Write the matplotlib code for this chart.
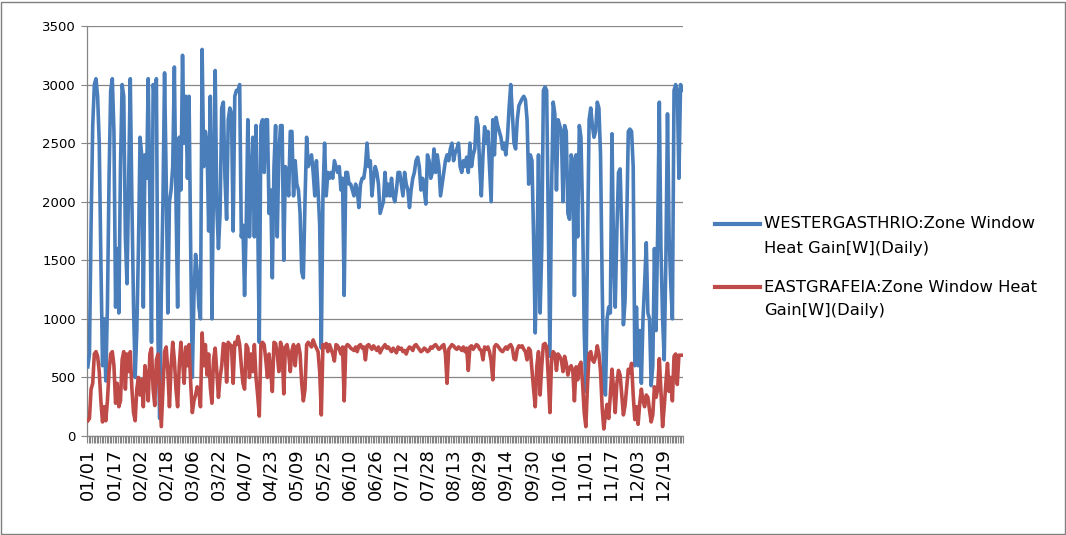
import matplotlib
matplotlib.use("Agg")
import matplotlib.pyplot as plt
from matplotlib.lines import Line2D
from matplotlib.patches import Rectangle
import numpy as np

# ---------------- data ----------------
days = list(range(365))  # 01/01 .. 12/31 (daily categories)

tick_days = [0, 16, 32, 48, 64, 80, 96, 112, 128, 144, 160, 176, 192, 208, 224,
             240, 256, 272, 288, 304, 320, 336, 352]
tick_labels = ["01/01", "01/17", "02/02", "02/18", "03/06", "03/22", "04/07", "04/23",
               "05/09", "05/25", "06/10", "06/26", "07/12", "07/28", "08/13", "08/29",
               "09/14", "09/30", "10/16", "11/01", "11/17", "12/03", "12/19"]

west_gain = [
    590, 700, 1800, 2650, 3000, 3050, 2900, 2500, 1500, 600, 1000, 470, 1100, 2200, 2950, 3050,
    2600, 1100, 1600, 1050, 2300, 3000, 2900, 1700, 1300, 2200, 3050, 2000, 1100, 500, 900,
    1600, 2550, 2400, 1100, 2400, 2200, 3050, 2000, 800, 3000, 2900, 3050, 800, 150, 1200,
    2000, 3100, 2200, 1050, 2000, 2100, 2300, 3150, 2000, 1100, 2550, 2100, 3250, 2500, 2900,
    2200, 2900, 1600, 500, 1200, 1550, 1400, 1100, 1000, 3300, 2300, 2600, 2500, 1750, 2900,
    1000, 2200, 3120, 1950, 1600, 1900, 2800, 2850, 2200, 1850, 2700, 2800, 2750, 1750, 2900,
    2950, 2950, 3000, 1700, 1800, 1200, 1800, 2700, 1700, 2200, 2550, 1700, 2650, 1900, 800,
    2650, 2700, 2250, 2700, 2700, 1900, 2100, 1350, 2300, 2650, 1700, 2400, 2650, 2650, 1500, 2300,
    2250, 2050, 2600, 2600, 2050, 2350, 2150, 2100, 1900, 1400, 1350, 2000, 2550, 2300, 2350,
    2400, 2250, 2050, 2350, 2100, 1800, 750, 2050, 2500, 2050, 2250, 2200, 2250, 2200, 2350, 2300,
    2250, 2300, 2100, 2200, 1200, 2250, 2250, 2150, 2150, 2100, 2050, 2150, 2100, 1950, 2150,
    2200, 2200, 2300, 2500, 2300, 2350, 2050, 2200, 2300, 2250, 2150, 1900, 1950, 2000, 2250, 2050,
    2150, 2050, 2200, 2050, 2000, 2100, 2250, 2250, 2150, 2050, 2250, 2150, 2100, 1950, 2100,
    2200, 2250, 2350, 2380, 2300, 2100, 2200, 2100, 1980, 2400, 2350, 2200, 2250, 2450, 2250,
    2400, 2300, 2050, 2150, 2250, 2350, 2400, 2350, 2450, 2500, 2350, 2420, 2450, 2500, 2300,
    2250, 2350, 2300, 2380, 2250, 2500, 2300, 2400, 2450, 2720, 2650, 2300, 2050, 2400, 2640, 2500,
    2600, 2300, 2000, 2700, 2400, 2720, 2650, 2600, 2550, 2450, 2500, 2400, 2550, 2800, 3000,
    2750, 2500, 2450, 2700, 2820, 2850, 2880, 2900, 2870, 2700, 2150, 2400, 2350, 1700, 880, 1500,
    2400, 1050, 1600, 2950, 2980, 2950, 1800, 680, 2100, 2850, 2750, 2100, 2700, 2650, 2600,
    2000, 2650, 2600, 1900, 1850, 2400, 2350, 1200, 2400, 1700, 2650, 2550, 1900, 900, 380,
    1600, 2700, 2800, 2650, 2550, 2600, 2850, 2800, 2400, 1300, 450, 350, 1000, 1100, 1050,
    2580, 1550, 1100, 1750, 2250, 2280, 1750, 950, 1150, 1800, 2600, 2620, 2600, 2300, 600,
    1100, 600, 900, 450, 1000, 1300, 1650, 1050, 1000, 430, 600, 1600, 900, 1750, 2850,
    1600, 1000, 650, 1500, 2750, 1700, 1300, 1000, 2950, 3000, 2950, 2200, 3000, 2950,
]

east_gain = [
    130, 150, 400, 450, 700, 720, 680, 550, 300, 120, 250, 130, 300, 550, 700, 720,
    600, 280, 450, 250, 300, 650, 720, 400, 700, 550, 720, 400, 200, 130, 400,
    500, 350, 480, 250, 600, 500, 300, 700, 750, 400, 260, 650, 700, 400, 80,
    400, 720, 760, 550, 250, 600, 800, 650, 400, 250, 600, 800, 650, 450, 760,
    600, 780, 450, 200, 300, 350, 420, 380, 250, 880, 600, 780, 520, 700, 420,
    280, 650, 750, 550, 330, 500, 600, 790, 780, 460, 800, 780, 770, 450, 800,
    780, 850, 780, 600, 450, 400, 780, 750, 500, 700, 550, 780, 500, 350, 170,
    780, 800, 780, 650, 500, 700, 550, 380, 800, 790, 700, 550, 800, 750, 360, 760,
    780, 700, 550, 730, 780, 600, 760, 780, 700, 450, 300, 400, 780, 800, 780,
    760, 820, 780, 750, 720, 550, 180, 780, 760, 790, 720, 780, 740, 700, 640, 780,
    770, 740, 700, 760, 300, 760, 780, 770, 750, 740, 730, 760, 720, 770, 780,
    750, 760, 650, 770, 780, 760, 740, 770, 750, 730, 760, 710, 740, 760, 780, 750,
    760, 740, 720, 750, 730, 710, 760, 740, 750, 720, 730, 700, 740, 760, 750,
    730, 770, 780, 760, 740, 720, 730, 750, 740, 720, 730, 760, 750, 770, 780,
    760, 740, 750, 770, 780, 700, 450, 740, 760, 780, 770, 750, 740, 760, 750,
    730, 760, 720, 750, 560, 760, 770, 740, 760, 780, 770, 740, 730, 650, 760, 740,
    760, 720, 640, 480, 760, 780, 770, 750, 730, 720, 740, 760, 740, 770, 780,
    750, 660, 650, 740, 770, 760, 770, 740, 720, 650, 750, 730, 560, 400, 250, 600,
    720, 350, 600, 780, 790, 760, 500, 200, 650, 720, 700, 560, 700, 680, 650,
    550, 680, 620, 520, 580, 600, 560, 300, 590, 480, 600, 630, 450, 200, 80,
    430, 700, 720, 650, 630, 680, 770, 700, 550, 240, 60, 180, 270, 150, 350,
    570, 400, 200, 450, 560, 520, 350, 180, 260, 420, 570, 540, 620, 350, 140,
    250, 100, 280, 400, 300, 250, 350, 330, 220, 120, 180, 420, 330, 400, 660,
    380, 80, 250, 450, 620, 380, 500, 300, 680, 700, 440, 690, 690, 690,
]

series_names = ["WESTERGASTHRIO:Zone Window\nHeat Gain[W](Daily)",
                "EASTGRAFEIA:Zone Window Heat\nGain[W](Daily)"]
y_ticks = [0, 500, 1000, 1500, 2000, 2500, 3000, 3500]

# ---------------- style ----------------
BLUE = "#4A7EBB"
RED = "#BE4B48"
GRID = "#868686"
plt.rcParams["font.family"] = ["DejaVu Sans"]

W, H = 1066, 535
fig = plt.figure(figsize=(W / 100, H / 100), dpi=100)
fig.patch.set_facecolor("white")

L, R, T, B = 87, 683, 26, 436
ax = fig.add_axes([L / W, 1 - B / H, (R - L) / W, (B - T) / H])

ax.plot(days, west_gain, color=BLUE, lw=2.6, solid_joinstyle="round", zorder=3)
ax.plot(days, east_gain, color=RED, lw=2.6, solid_joinstyle="round", zorder=4)

ax.set_xlim(-0.5, 364.5)
ax.set_ylim(0, 3500)
ax.set_yticks(y_ticks)
ax.set_yticklabels([str(v) for v in y_ticks], fontsize=9.5)
ax.yaxis.grid(True, color=GRID, lw=0.9)
ax.set_axisbelow(True)

ax.set_xticks(tick_days)
ax.set_xticklabels(tick_labels, rotation=90, fontsize=13)
ax.set_xticks(np.arange(-0.5, 365, 1), minor=True)
ax.tick_params(axis="x", which="major", length=0, pad=9)
ax.tick_params(axis="x", which="minor", length=5, color=GRID, width=0.8)
ax.tick_params(axis="y", length=4, color=GRID, width=0.8, pad=4)

for s in ["top", "right"]:
    ax.spines[s].set_visible(False)
for s in ["left", "bottom"]:
    ax.spines[s].set_color(GRID)
    ax.spines[s].set_linewidth(0.9)

# outer chart border
fig.add_artist(Rectangle((0.5 / W, 1.5 / H), (W - 2) / W, (H - 3) / H,
                         transform=fig.transFigure, fill=False,
                         edgecolor="#7f7f7f", lw=1.0))

# legend (manual, Excel-like)
leg_items = [(BLUE, 224, series_names[0]), (RED, 287, series_names[1])]
for color, ypix, name in leg_items:
    fig.add_artist(Line2D([715 / W, 760 / W], [1 - ypix / H] * 2,
                          transform=fig.transFigure, color=color, lw=3))
    lines = name.split("\n")
    for i, line in enumerate(lines):
        fig.text(764 / W, 1 - (ypix + 24 * i) / H, line, va="center", ha="left",
                 fontsize=11.8, color="black")

fig.savefig("out.png", dpi=100)
